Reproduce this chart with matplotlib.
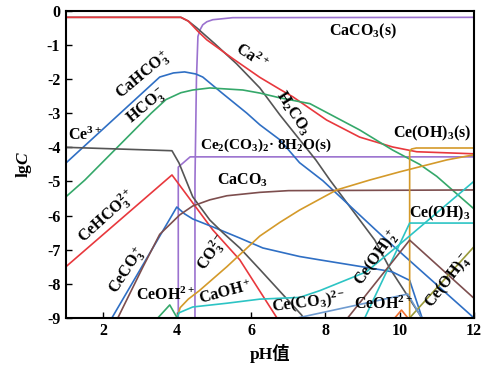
import matplotlib
matplotlib.use("Agg")
import matplotlib.pyplot as plt

plt.rcParams['axes.unicode_minus'] = False
plt.rcParams['mathtext.fontset'] = 'custom'
plt.rcParams['mathtext.rm'] = 'Liberation Serif:bold'
plt.rcParams['mathtext.it'] = 'Liberation Serif:italic:bold'
plt.rcParams['mathtext.bf'] = 'Liberation Serif:bold'
plt.rcParams['font.family'] = ['Liberation Serif', 'Noto Sans CJK SC']
plt.rcParams['font.weight'] = 'bold'

# ---- data (pH, lgC) ----
ca2_ph = [1, 4.1, 4.3, 4.56, 4.8, 5.5, 6.23, 6.77, 7.12, 8.03, 8.92, 9.81, 10.46, 12]
ca2_lg = [-0.19, -0.19, -0.3, -0.6, -0.85, -1.4, -1.95, -2.3, -2.52, -3.2, -3.7, -3.99, -4.13, -4.19]

h2co3_ph = [1, 4.1, 4.3, 4.53, 5.0, 5.6, 6.23, 6.77, 7.74, 8.12, 9.33, 9.73, 10.54, 10.65]
h2co3_lg = [-0.19, -0.19, -0.3, -0.5, -0.95, -1.55, -2.26, -3.05, -4.37, -4.96, -6.72, -7.54, -8.9, -9.1]

caco3s_ph = [4.48, 4.48, 4.52, 4.56, 4.62, 4.69, 4.8, 4.96, 5.5, 12]
caco3s_lg = [-9.2, -5.0, -2.0, -0.75, -0.55, -0.41, -0.32, -0.26, -0.2, -0.19]

ce2co3s_ph = [4.03, 4.03, 4.35, 12]
ce2co3s_lg = [-9.2, -4.58, -4.28, -4.28]

cahco3_ph = [1, 3.53, 3.9, 4.2, 4.5, 4.69, 5.2, 5.88, 6.23, 6.77, 7.3, 7.93, 9.65, 11.9, 12.1]
cahco3_lg = [-4.46, -1.94, -1.82, -1.79, -1.85, -1.94, -2.4, -3.0, -3.34, -3.78, -4.45, -4.98, -6.72, -8.9, -9.1]

hco3_ph = [1, 1.51, 3.3, 3.7, 4.1, 4.42, 4.88, 5.77, 6.23, 6.77, 7.58, 8.92, 9.81, 10.54, 11.0, 12]
hco3_lg = [-5.45, -4.96, -3.0, -2.6, -2.4, -2.32, -2.26, -2.32, -2.41, -2.55, -2.72, -3.49, -4.08, -4.5, -4.85, -5.8]

cehco3_ph = [1, 3.86, 4.96, 5.69, 6.72]
cehco3_lg = [-7.5, -4.81, -6.42, -7.3, -9.05]

ceco3_ph = [2.24, 3.99, 4.2, 4.42, 5.0, 5.69, 6.31, 7.3, 7.85, 9.55, 9.8, 10.27, 10.62]
ceco3_lg = [-9.0, -5.75, -5.95, -6.1, -6.35, -6.66, -6.95, -7.2, -7.3, -7.6, -7.65, -7.9, -9.05]

ce3_ph = [1, 3.86, 4.05, 4.42, 4.88, 5.23, 5.69, 6.23, 7.36, 7.42]
ce3_lg = [-4.0, -4.1, -4.46, -5.45, -6.13, -6.5, -6.95, -7.58, -8.92, -9.05]

caco3aq_ph = [2.4, 3.08, 3.53, 4.07, 4.42, 4.88, 5.34, 6.23, 7.0, 12]
caco3aq_lg = [-9.0, -7.5, -6.55, -5.98, -5.72, -5.54, -5.42, -5.32, -5.27, -5.25]

co3_ph = [4.0, 4.08, 4.3, 4.6, 5.34, 6.23, 6.77, 7.3, 8.3, 9.19, 10.0, 11.27, 12]
co3_lg = [-9.0, -8.7, -8.45, -8.2, -7.5, -6.6, -6.2, -5.84, -5.25, -4.96, -4.72, -4.37, -4.22]

ceoh3s_ph = [10.27, 10.27, 10.32, 10.45, 12]
ceoh3s_lg = [-9.2, -4.13, -4.05, -4.02, -4.02]

caoh_ph = [4.0, 4.05, 4.42, 5.34, 6.23, 7.3, 7.85, 9.1, 10.05, 12]
caoh_lg = [-9.0, -8.85, -8.68, -8.57, -8.45, -8.4, -8.2, -7.65, -6.8, -5.0]

ceoh3aq_ph = [9.06, 10.27, 12]
ceoh3aq_lg = [-9.0, -6.22, -6.22]

ceoh2_ph = [8.6, 10.27, 12]
ceoh2_lg = [-9.0, -6.72, -8.42]

ceoh4_ph = [10.27, 12]
ceoh4_lg = [-9.0, -6.92]

ceco32_ph = [7.25, 10.22, 10.62]
ceco32_lg = [-9.0, -8.3, -9.05]

ceoh_a_ph = [3.48, 3.8, 4.0]
ceoh_a_lg = [-9.0, -8.62, -9.0]
ceoh_b_ph = [9.87, 10.05, 10.22]
ceoh_b_lg = [-9.0, -8.77, -9.0]

x_ticks = [2, 4, 6, 8, 10, 12]
y_ticks = [0, -1, -2, -3, -4, -5, -6, -7, -8, -9]

RED = '#e8383d'
BLUE = '#2f6fc4'
GREEN = '#35a86a'
GRAY = '#555555'
PURPLE = '#9b72cf'
BROWN = '#7d4e4e'
GOLD = '#d49a2a'
CYAN = '#2cc4c4'
OLIVE = '#9a9a3a'
STEEL = '#6f9bd0'
ORANGE = '#f07030'

fig = plt.figure(figsize=(4.92, 3.74), dpi=100)
ax = fig.add_axes([0.134, 0.150, 0.829, 0.821])

lw = 1.2
series = [
    (ce2co3s_ph, ce2co3s_lg, PURPLE),
    (caco3s_ph, caco3s_lg, PURPLE),
    (h2co3_ph, h2co3_lg, GRAY),
    (ca2_ph, ca2_lg, RED),
    (cahco3_ph, cahco3_lg, BLUE),
    (hco3_ph, hco3_lg, GREEN),
    (cehco3_ph, cehco3_lg, RED),
    (ceco3_ph, ceco3_lg, BLUE),
    (ce3_ph, ce3_lg, GRAY),
    (caco3aq_ph, caco3aq_lg, BROWN),
    (co3_ph, co3_lg, GOLD),
    (ceoh3s_ph, ceoh3s_lg, GOLD),
    (caoh_ph, caoh_lg, CYAN),
    (ceoh3aq_ph, ceoh3aq_lg, CYAN),
    (ceoh2_ph, ceoh2_lg, BROWN),
    (ceoh4_ph, ceoh4_lg, OLIVE),
    (ceco32_ph, ceco32_lg, STEEL),
    (ceoh_a_ph, ceoh_a_lg, GREEN),
    (ceoh_b_ph, ceoh_b_lg, ORANGE),
]
for xs, ys, c in series:
    ax.plot(xs, ys, color=c, lw=lw, solid_joinstyle='round')

ax.set_xlim(1, 12)
ax.set_ylim(-9, 0)
ax.set_xticks(x_ticks)
ax.set_yticks(y_ticks)
ax.set_xticklabels([str(v) for v in x_ticks])
ax.set_yticklabels([str(v) for v in y_ticks])
ax.tick_params(direction='in', length=4, width=1.0, labelsize=11.5, pad=4)
for lab_ in ax.get_xticklabels() + ax.get_yticklabels():
    lab_.set_fontweight('bold')
for sp in ax.spines.values():
    sp.set_linewidth(1.5)

ax.set_xlabel('pH值', fontsize=12.5, fontweight='bold', labelpad=3,
              family=['Liberation Serif', 'Noto Sans CJK SC'])
ax.set_ylabel('lg$C$', fontsize=12.5, fontweight='bold', labelpad=9)

fs = 11.5
def lab(x, y, s, rot=0, size=fs):
    ax.text(x, y, s, rotation=rot, fontsize=size, fontweight='bold',
            ha='center', va='center', rotation_mode='anchor')

lab(9.0, -0.6, 'CaCO$_3$(s)')
lab(6.0, -1.35, 'Ca$^{2+}$', -33)
lab(7.12, -3.0, 'H$_2$CO$_3$', -57)
lab(3.08, -1.88, 'CaHCO$_3^+$', 40)
lab(3.18, -2.8, 'HCO$_3^-$', 40)
lab(1.5, -3.66, 'Ce$^{3+}$')
lab(6.4, -3.93, 'Ce$_2$(CO$_3$)$_2$· 8H$_2$O(s)', size=11)
lab(10.87, -3.6, 'Ce(OH)$_3$(s)')
lab(5.77, -4.96, 'CaCO$_3$')
lab(2.1, -6.04, 'CeHCO$_3^{2+}$', 42)
lab(2.67, -7.6, 'CeCO$_3^+$', 57)
lab(3.67, -8.33, 'CeOH$^{2+}$')
lab(4.96, -7.1, 'CO$_3^{2-}$', 55)
lab(5.29, -8.27, 'CaOH$^+$', 15)
lab(7.55, -8.53, 'Ce(CO$_3$)$^{2-}$', 7)
lab(9.55, -8.6, 'CeOH$^{2+}$')
lab(9.38, -7.25, 'Ce(OH)$_2^+$', 55)
lab(11.3, -7.9, 'Ce(OH)$_4^-$', 52)
lab(11.08, -5.93, 'Ce(OH)$_3$')

fig.savefig('out.png', dpi=100)
